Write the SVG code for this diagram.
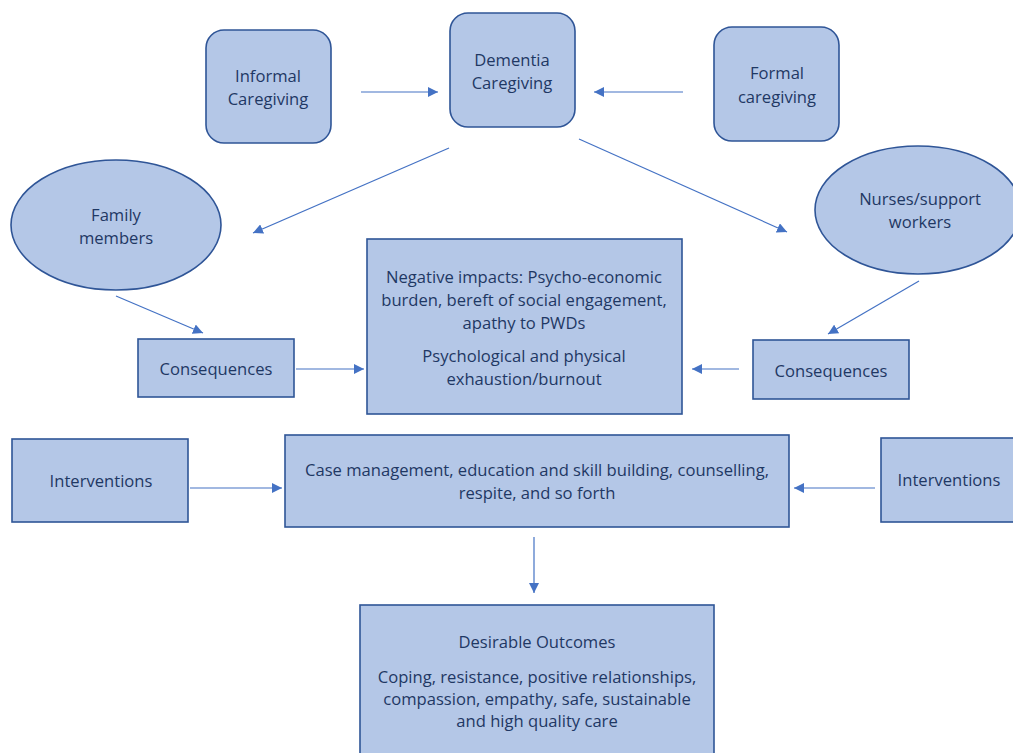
<svg xmlns="http://www.w3.org/2000/svg" width="1013" height="753" viewBox="0 0 1013 753">
<style>
.n{fill:#b4c7e7;stroke:#2f5597;stroke-width:1.6}
.t{font-family:"Open Sans","Noto Sans",sans-serif;font-size:16.6px;fill:#1f3864;text-anchor:middle}
.c{stroke:#4472c4;stroke-width:1.2;fill:none;marker-end:url(#ah)}
</style>
<defs>
<marker id="ah" viewBox="0 0 10 10" refX="10" refY="5" markerWidth="10" markerHeight="10" markerUnits="userSpaceOnUse" orient="auto">
<path d="M0,0 L10,5 L0,10 Z" fill="#4472c4"/>
</marker>
</defs>
<rect width="1013" height="753" fill="#ffffff"/>
<g id="informal"><rect class="n" x="206" y="30" width="125" height="113" rx="18"/><text class="t" x="268" y="82">Informal</text><text class="t" x="268" y="105">Caregiving</text></g>
<g id="dementia"><rect class="n" x="450" y="13" width="125" height="114" rx="18"/><text class="t" x="512" y="66">Dementia</text><text class="t" x="512" y="89">Caregiving</text></g>
<g id="formal"><rect class="n" x="714" y="27" width="125" height="114" rx="18"/><text class="t" x="777" y="79">Formal</text><text class="t" x="777" y="103">caregiving</text></g>
<g id="family"><ellipse class="n" cx="116" cy="225" rx="105" ry="65"/><text class="t" x="116" y="221">Family</text><text class="t" x="116" y="244">members</text></g>
<g id="nurses"><ellipse class="n" cx="918" cy="210" rx="103" ry="64"/><text class="t" x="920" y="205">Nurses/support</text><text class="t" x="920" y="228">workers</text></g>
<g id="consL"><rect class="n" x="138" y="339" width="156" height="58"/><text class="t" x="216" y="375">Consequences</text></g>
<g id="negative"><rect class="n" x="367" y="239" width="315" height="175"/>
<text class="t" x="524" y="283">Negative impacts: Psycho-economic</text>
<text class="t" x="524" y="306">burden, bereft of social engagement,</text>
<text class="t" x="524" y="329">apathy to PWDs</text>
<text class="t" x="524" y="362">Psychological and physical</text>
<text class="t" x="524" y="385">exhaustion/burnout</text></g>
<g id="consR"><rect class="n" x="753" y="340" width="156" height="59"/><text class="t" x="831" y="377">Consequences</text></g>
<g id="intL"><rect class="n" x="12" y="439" width="176" height="83"/><text class="t" x="101" y="487">Interventions</text></g>
<g id="case"><rect class="n" x="285" y="435" width="504" height="92"/>
<text class="t" x="537" y="476">Case management, education and skill building, counselling,</text>
<text class="t" x="537" y="499">respite, and so forth</text></g>
<g id="intR"><rect class="n" x="881" y="438" width="140" height="84"/><text class="t" x="949" y="486">Interventions</text></g>
<g id="outcomes"><rect class="n" x="360" y="605" width="354" height="160"/>
<text class="t" x="537" y="648">Desirable Outcomes</text>
<text class="t" x="537" y="683">Coping, resistance, positive relationships,</text>
<text class="t" x="537" y="705">compassion, empathy, safe, sustainable</text>
<text class="t" x="537" y="727">and high quality care</text></g>
<g id="connectors">
<line class="c" x1="361" y1="92" x2="438" y2="92"/>
<line class="c" x1="683" y1="92" x2="594" y2="92"/>
<line class="c" x1="449" y1="148" x2="253" y2="233"/>
<line class="c" x1="579" y1="139" x2="787" y2="232"/>
<line class="c" x1="116" y1="296" x2="203" y2="333"/>
<line class="c" x1="919" y1="281" x2="828" y2="334"/>
<line class="c" x1="296" y1="369" x2="364" y2="369"/>
<line class="c" x1="739" y1="369" x2="692" y2="369"/>
<line class="c" x1="190" y1="488" x2="282" y2="488"/>
<line class="c" x1="875" y1="488" x2="794" y2="488"/>
<line class="c" x1="534" y1="537" x2="534" y2="593"/>
</g>
</svg>
